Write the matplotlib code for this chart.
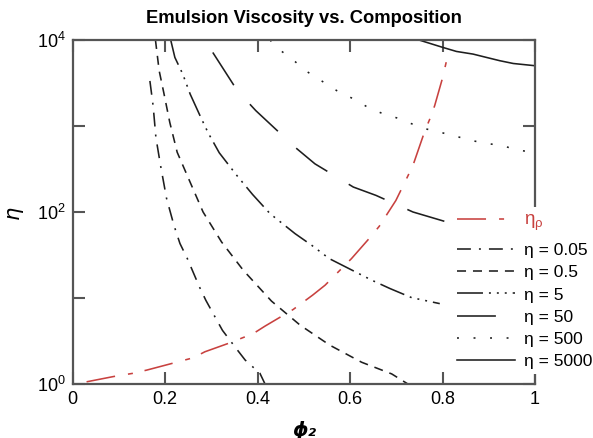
import matplotlib
matplotlib.use("Agg")
import matplotlib.pyplot as plt

plt.rcParams['font.family'] = ['Liberation Sans', 'DejaVu Sans']
plt.rcParams['mathtext.fontset'] = 'custom'
plt.rcParams['mathtext.rm'] = 'Liberation Sans'
plt.rcParams['mathtext.it'] = 'Liberation Sans:italic'
plt.rcParams['lines.scale_dashes'] = False

# Relative emulsion viscosity curves for several dispersed-phase viscosity ratios
phi_005 = [0.167, 0.174, 0.180, 0.190, 0.203, 0.219, 0.232, 0.248, 0.274, 0.288,
           0.308, 0.324, 0.351, 0.373, 0.405, 0.416]
eta_005 = [3340, 1710, 733, 348, 144, 70, 43, 28.7, 13.5, 9.4, 6.0, 4.2, 2.7, 1.9,
           1.33, 1.0]

phi_05 = [0.179, 0.187, 0.197, 0.210, 0.226, 0.254, 0.282, 0.322, 0.369, 0.430,
          0.492, 0.556, 0.625, 0.690, 0.725]
eta_05 = [10000, 4400, 2440, 1100, 495, 222, 100, 44.8, 21.0, 9.2, 4.83, 2.83,
          1.79, 1.31, 1.0]

phi_5 = [0.212, 0.221, 0.238, 0.254, 0.277, 0.293, 0.317, 0.355, 0.389, 0.427,
         0.481, 0.517, 0.555, 0.607, 0.647, 0.686, 0.733, 0.794]
eta_5 = [10000, 6270, 4020, 2355, 1262, 832, 488, 266, 160, 95.5, 56, 41, 28.7,
         20.7, 16.1, 12.9, 10.1, 8.6]

phi_50 = [0.303, 0.356, 0.396, 0.481, 0.524, 0.607, 0.656, 0.736, 0.812]
eta_50 = [7160, 2580, 1510, 566, 363, 195, 156, 100, 75.7]

phi_500 = [0.427, 0.441, 0.477, 0.506, 0.541, 0.571, 0.605, 0.636, 0.669, 0.701,
           0.734, 0.764, 0.800, 0.829, 0.863, 0.892, 0.928, 0.959, 0.992]
eta_500 = [10000, 8185, 5850, 4315, 3275, 2580, 2095, 1680, 1403, 1242, 1057, 925,
           832, 759, 678, 630, 593, 532, 495]

phi_5000 = [0.749, 0.801, 0.830, 0.866, 0.895, 0.924, 0.953, 1.0]
eta_5000 = [10000, 8185, 7360, 6855, 6270, 5740, 5330, 5020]

phi_rho = [0.030, 0.088, 0.130, 0.160, 0.221, 0.261, 0.286, 0.340, 0.391, 0.416,
           0.477, 0.519, 0.546, 0.603, 0.643, 0.663, 0.699, 0.722, 0.736, 0.762,
           0.774, 0.783, 0.800, 0.809]
eta_rho = [1.06, 1.22, 1.33, 1.45, 1.77, 2.02, 2.37, 3.01, 3.87, 4.71, 7.36, 10.8,
           14.1, 28.7, 50.4, 68.1, 136, 243, 348, 885, 1262, 1726, 3614, 5848]

x_ticks = [0, 0.2, 0.4, 0.6, 0.8, 1]
x_tick_labels = ['0', '0.2', '0.4', '0.6', '0.8', '1']
y_ticks = [1, 10, 100, 1000, 10000]
y_tick_labels = [r'10$^0$', '', r'10$^2$', '', r'10$^4$']

rho_label = r'η$_{\mathregular{ρ}}$'
ratio_labels = ['η = 0.05', 'η = 0.5', 'η = 5', 'η = 50', 'η = 500', 'η = 5000']

RED = '#c8413f'
INK = '#1e1e1e'
SPINE = '#555555'
LW = 1.15

fig = plt.figure(figsize=(5.93, 4.38), dpi=100)
ax = fig.add_axes([0.1226, 0.1233, 0.7796, 0.7854])

ratio_styles = [
    dict(dashes=[10.0, 5.8, 1.4, 5.8]),
    dict(dashes=[6.5, 5.0]),
    dict(dashes=[18.7, 4.3, 1.4, 4.3, 1.4, 4.3, 1.4, 4.3]),
    dict(dashes=[28.0, 18.0]),
    dict(dashes=[1.4, 10.5]),
    dict(linestyle='-'),
]
ratio_series = [(phi_005, eta_005), (phi_05, eta_05), (phi_5, eta_5),
                (phi_50, eta_50), (phi_500, eta_500), (phi_5000, eta_5000)]

rho_line, = ax.plot(phi_rho, eta_rho, lw=LW, color=RED,
                    dashes=[20.9, 9.4, 3.6, 8.6])
ratio_lines = []
for (xs, ys), st in zip(ratio_series, ratio_styles):
    ln, = ax.plot(xs, ys, lw=LW, color=INK, **st)
    ratio_lines.append(ln)

ax.set_yscale('log')
ax.set_xlim(0, 1)
ax.set_ylim(1, 10000)
ax.set_xticks(x_ticks)
ax.set_xticklabels(x_tick_labels)
ax.set_yticks(y_ticks)
ax.set_yticklabels(y_tick_labels)
ax.minorticks_off()
ax.tick_params(which='major', direction='in', length=8.5, width=1.5, color=SPINE,
               labelsize=13, pad=5, top=True, right=True)
for sp in ax.spines.values():
    sp.set_color(SPINE)
    sp.set_linewidth(1.6)

ax.set_title('Emulsion Viscosity vs. Composition', fontsize=13.2,
             fontweight='bold', pad=12)
ax.set_xlabel('ϕ₂', fontsize=14, fontweight='bold', style='italic',
              family=['DejaVu Sans'], labelpad=9)
ax.set_ylabel('η', fontsize=15, style='italic', family=['DejaVu Sans'],
              labelpad=10)

common = dict(loc='upper left', bbox_transform=fig.transFigure, fontsize=12.5,
              handlelength=3.3, handletextpad=0.55, borderaxespad=0,
              frameon=True, fancybox=False, framealpha=1, facecolor='white',
              edgecolor='none')

leg_rho = ax.legend([rho_line], [rho_label],
                    bbox_to_anchor=(452 / 593, 1 - 207 / 438),
                    borderpad=0.3, **common)
leg_rho.get_texts()[0].set_color(RED)
leg_rho.get_texts()[0].set_fontsize(13.5)
ax.add_artist(leg_rho)

leg_ratio = ax.legend(ratio_lines, ratio_labels,
                      bbox_to_anchor=(452 / 593, 1 - 238 / 438),
                      borderpad=0.3, labelspacing=0.4, **common)

fig.savefig('out.png', dpi=100)
